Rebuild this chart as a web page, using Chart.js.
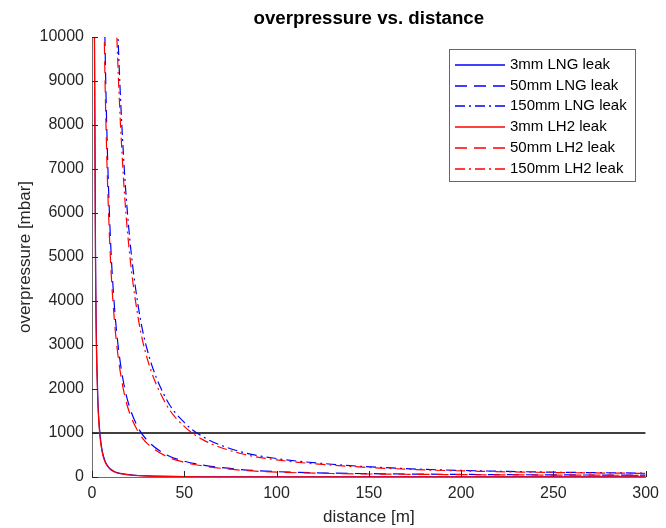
<!DOCTYPE html>
<html>
<head>
<meta charset="utf-8">
<script src="https://cdn.jsdelivr.net/npm/chart.js@4.4.0/dist/chart.umd.min.js"></script>
<style>
  html, body { margin: 0; padding: 0; background: #fff; }
</style>
</head>
<body>
<canvas id="chart" width="666" height="528"></canvas>
<script>
// distance [m] shared by all leak curves
const distance = [1, 1.35, 2, 3, 4, 5, 6, 7, 8, 10, 12, 14, 17, 20, 25, 30, 40, 50, 60, 80, 100, 130, 170, 210, 250, 300];

// overpressure [mbar]
const lng3mm   = [18200, 10000, 4560, 2030, 1140, 730, 506, 372, 285, 182, 127, 93, 70, 52, 34, 24, 14, 9, 6, 4, 3, 2, 1.5, 1.2, 1, 0.8];
const lng50mm  = [null, null, null, null, null, 17840, 13040, 10000, 7950, 5410, 3960, 3040, 2170, 1640, 1120, 830, 513, 360, 272, 172, 122, 88, 68, 56, 48, 42];
const lng150mm = [null, null, null, null, null, null, null, null, null, 18000, 13050, 10120, 7350, 5620, 3890, 2880, 1790, 1240, 917, 580, 420, 290, 190, 140, 110, 88];
const lh23mm   = [17100, 9400, 4290, 1910, 1070, 690, 475, 350, 268, 171, 119, 87, 66, 49, 32, 22, 13, 8, 5.5, 3.5, 2.5, 1.8, 1.3, 1, 0.9, 0.7];
const lh250mm  = [null, null, null, null, null, 16360, 11960, 9170, 7290, 4960, 3630, 2790, 1990, 1500, 1030, 760, 475, 333, 252, 158, 112, 80, 62, 51, 44, 38];
const lh2150mm = [null, null, null, null, null, null, null, null, null, 16800, 12100, 9400, 6830, 5230, 3620, 2680, 1665, 1150, 850, 540, 390, 270, 177, 130, 102, 82];

// 1000 mbar reference line
const limitX = [0, 300];
const limitY = [1000, 1000];

const FONT = '"Liberation Sans", Arial, Helvetica, sans-serif';
const TEXT = '#262626';
const DASHED = [12, 7];
const DASHDOT = [10, 4, 2, 4];

const series = [
  { label: '3mm LNG leak',   values: lng3mm,   color: 'rgb(0,0,255)', dash: [] },
  { label: '50mm LNG leak',  values: lng50mm,  color: 'rgb(0,0,255)', dash: DASHED },
  { label: '150mm LNG leak', values: lng150mm, color: 'rgb(0,0,255)', dash: DASHDOT },
  { label: '3mm LH2 leak',   values: lh23mm,   color: 'rgb(255,0,0)', dash: [] },
  { label: '50mm LH2 leak',  values: lh250mm,  color: 'rgb(255,0,0)', dash: DASHED },
  { label: '150mm LH2 leak', values: lh2150mm, color: 'rgb(255,0,0)', dash: DASHDOT }
];

const toPoints = (xs, ys) => xs.map((x, i) => ({ x: x, y: ys[i] }));

const datasets = series.map((s, i) => ({
  label: s.label,
  data: toPoints(distance, s.values),
  borderColor: s.color,
  borderDash: s.dash,
  borderWidth: 1.2,
  pointRadius: 0,
  fill: false,
  cubicInterpolationMode: 'monotone',
  order: i < 3 ? 2 : 1
}));

datasets.push({
  label: 'limit',
  data: toPoints(limitX, limitY),
  borderColor: '#000',
  borderWidth: 1.6,
  pointRadius: 0,
  fill: false,
  order: 3
});

// title, inward tick marks and boxed legend
const decorations = {
  id: 'decorations',
  afterDraw(chart) {
    const { ctx, chartArea, scales } = chart;
    ctx.save();

    ctx.strokeStyle = TEXT;
    ctx.lineWidth = 1;
    ctx.beginPath();
    scales.y.ticks.forEach(t => {
      const y = Math.round(scales.y.getPixelForValue(t.value)) + 0.5;
      ctx.moveTo(chartArea.left, y);
      ctx.lineTo(chartArea.left + 6, y);
    });
    scales.x.ticks.forEach(t => {
      const x = Math.round(scales.x.getPixelForValue(t.value)) + 0.5;
      ctx.moveTo(x, chartArea.bottom);
      ctx.lineTo(x, chartArea.bottom - 6);
    });
    ctx.stroke();

    ctx.fillStyle = '#000';
    ctx.font = 'bold 18.7px ' + FONT;
    ctx.textAlign = 'center';
    ctx.textBaseline = 'middle';
    ctx.fillText('overpressure vs. distance', (chartArea.left + chartArea.right) / 2, 19);

    const box = { x: 449.5, y: 49.5, w: 186, h: 132 };
    ctx.fillStyle = '#fff';
    ctx.fillRect(box.x, box.y, box.w, box.h);
    ctx.strokeStyle = '#666';
    ctx.strokeRect(box.x, box.y, box.w, box.h);

    ctx.font = '15px ' + FONT;
    ctx.textAlign = 'left';
    series.forEach((s, i) => {
      const y = Math.round(65 + i * 20.7);
      ctx.strokeStyle = s.color;
      ctx.lineWidth = 1.4;
      ctx.setLineDash(s.dash);
      ctx.beginPath();
      ctx.moveTo(455, y);
      ctx.lineTo(505, y);
      ctx.stroke();
      ctx.setLineDash([]);
      ctx.fillStyle = '#000';
      ctx.fillText(s.label, 510, y);
    });

    ctx.restore();
  }
};

new Chart(document.getElementById('chart'), {
  type: 'line',
  data: { datasets: datasets },
  options: {
    responsive: false,
    animation: false,
    layout: { padding: { top: 37, right: 16, left: 0, bottom: 0 } },
    plugins: {
      legend: { display: false },
      title: { display: false },
      tooltip: { enabled: false }
    },
    scales: {
      x: {
        type: 'linear',
        min: 0,
        max: 300,
        grid: { display: false, drawTicks: false },
        border: { display: true, color: '#6e6e6e', width: 1 },
        ticks: { stepSize: 50, color: TEXT, padding: 7, font: { family: FONT, size: 16 }, maxRotation: 0, callback: v => String(v) },
        title: { display: true, text: 'distance [m]', color: TEXT, padding: { top: 0, bottom: 0 }, font: { family: FONT, size: 17 } },
        afterFit(scale) { scale.height = 51; }
      },
      y: {
        type: 'linear',
        min: 0,
        max: 10000,
        grid: { display: false, drawTicks: false },
        border: { display: true, color: '#6e6e6e', width: 1 },
        ticks: { stepSize: 1000, color: TEXT, padding: 8, font: { family: FONT, size: 16 }, callback: v => String(v) },
        title: { display: true, text: 'overpressure [mbar]', color: TEXT, padding: { top: 15, bottom: 0 }, font: { family: FONT, size: 17 } },
        afterFit(scale) { scale.width = 92; }
      }
    }
  },
  plugins: [decorations]
});
</script>
</body>
</html>
